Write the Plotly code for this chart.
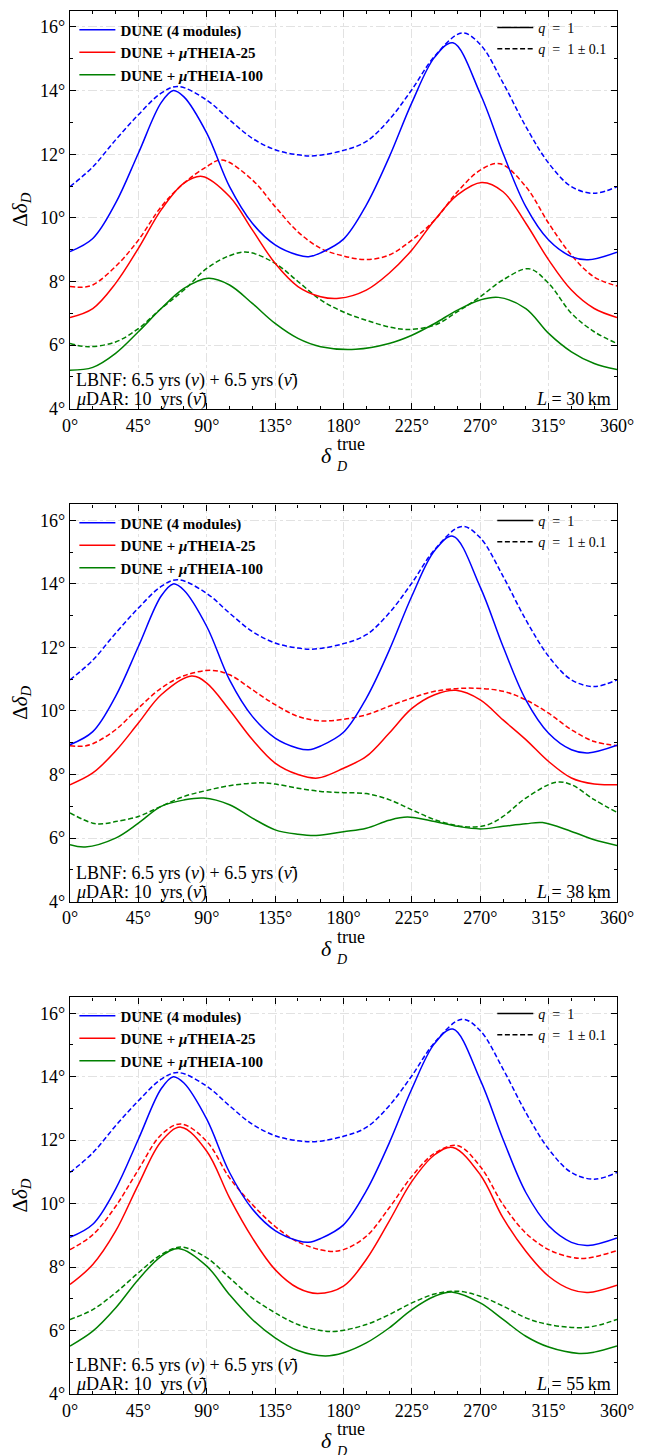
import plotly.graph_objects as go
from plotly.subplots import make_subplots

# Resolution on delta_CP (degrees) vs. true delta_CP (degrees); (delta_true, value) pairs
DUNE_Q1 = [(0, 8.94), (15, 9.35), (30, 10.46), (45, 12.03), (60, 13.62), (68, 14.0), (75, 13.8),
           (90, 12.66), (105, 10.98), (120, 9.83), (135, 9.15), (150, 8.83), (157, 8.78),
           (165, 8.9), (180, 9.33), (195, 10.4), (210, 11.9), (225, 13.62), (240, 15.05),
           (252, 15.5), (270, 13.9), (285, 12.03), (300, 10.35), (315, 9.3), (330, 8.78),
           (341, 8.68), (360, 8.92)]
DUNE_QV = [(0, 10.98), (15, 11.6), (30, 12.45), (45, 13.24), (60, 13.92), (71, 14.13),
           (90, 13.7), (105, 13.08), (120, 12.5), (135, 12.14), (150, 11.98), (161, 11.95),
           (180, 12.12), (195, 12.4), (210, 13.08), (225, 14.03), (240, 15.08), (258, 15.81),
           (270, 15.45), (285, 14.24), (300, 12.87), (315, 11.72), (330, 10.98), (345, 10.77),
           (360, 10.98)]

# L = 30 km
T25_Q1_30 = [(0, 6.87), (15, 7.15), (30, 7.94), (45, 9.04), (60, 10.25), (75, 11.09), (87, 11.3),
             (105, 10.67), (120, 9.62), (135, 8.57), (150, 7.84), (165, 7.52), (177, 7.47),
             (195, 7.73), (210, 8.26), (225, 8.99), (240, 9.93), (255, 10.72), (271, 11.11),
             (285, 10.82), (300, 9.83), (315, 8.68), (330, 7.73), (345, 7.15), (360, 6.87)]
T25_QV_30 = [(0, 7.84), (8, 7.82), (15, 7.89), (30, 8.47), (45, 9.3), (60, 10.35), (75, 11.09),
             (90, 11.61), (100, 11.82), (120, 11.19), (135, 10.35), (150, 9.56), (165, 9.04),
             (180, 8.8), (195, 8.69), (210, 8.83), (225, 9.3), (240, 9.93), (255, 10.82),
             (270, 11.5), (283, 11.7), (300, 10.98), (315, 9.83), (330, 8.83), (345, 8.14),
             (360, 7.86)]
T100_Q1_30 = [(0, 5.21), (15, 5.3), (30, 5.74), (45, 6.42), (60, 7.15), (75, 7.78), (91, 8.1),
              (105, 7.89), (120, 7.31), (135, 6.68), (150, 6.21), (165, 5.95), (188, 5.87),
              (210, 6.05), (225, 6.31), (240, 6.68), (255, 7.1), (270, 7.42), (282, 7.5),
              (300, 7.15), (315, 6.37), (330, 5.79), (345, 5.42), (360, 5.23)]
T100_QV_30 = [(0, 6.05), (12, 5.95), (30, 6.1), (45, 6.52), (60, 7.15), (75, 7.73), (90, 8.41),
              (105, 8.81), (117, 8.92), (135, 8.57), (150, 8.0), (165, 7.42), (180, 7.04),
              (195, 6.78), (210, 6.57), (222, 6.49), (240, 6.63), (255, 7.05), (270, 7.52),
              (285, 8.05), (302, 8.4), (315, 7.94), (330, 7.0), (345, 6.42), (360, 6.05)]

# L = 38 km
T25_Q1_38 = [(0, 7.68), (15, 8.05), (30, 8.74), (45, 9.62), (60, 10.51), (80, 11.1), (90, 10.88),
             (105, 10.03), (120, 9.1), (135, 8.36), (150, 8.0), (163, 7.89), (180, 8.2),
             (195, 8.57), (210, 9.3), (225, 10.08), (240, 10.51), (254, 10.65), (270, 10.35),
             (285, 9.72), (300, 9.1), (315, 8.41), (330, 7.89), (345, 7.7), (360, 7.68)]
T25_QV_38 = [(0, 8.91), (8, 8.89), (15, 8.97), (30, 9.41), (45, 10.09), (60, 10.72), (75, 11.11),
             (93, 11.28), (105, 11.14), (120, 10.67), (135, 10.2), (150, 9.83), (165, 9.69),
             (180, 9.74), (195, 9.88), (210, 10.15), (225, 10.41), (240, 10.62), (262, 10.72),
             (285, 10.62), (300, 10.35), (315, 9.93), (330, 9.41), (345, 9.04), (360, 8.91)]
T100_Q1_38 = [(0, 5.79), (10, 5.72), (30, 6.0), (45, 6.47), (60, 7.0), (75, 7.2), (88, 7.26),
              (105, 7.05), (120, 6.63), (135, 6.26), (150, 6.12), (162, 6.08), (180, 6.2),
              (195, 6.31), (210, 6.56), (222, 6.66), (240, 6.52), (255, 6.37), (270, 6.29),
              (285, 6.37), (300, 6.45), (311, 6.49), (330, 6.21), (345, 5.95), (360, 5.77)]
T100_QV_38 = [(0, 6.79), (15, 6.47), (22, 6.45), (30, 6.52), (45, 6.68), (60, 7.0), (75, 7.31),
              (90, 7.5), (105, 7.65), (125, 7.74), (135, 7.7), (150, 7.57), (165, 7.47),
              (180, 7.43), (195, 7.4), (210, 7.21), (225, 6.89), (240, 6.58), (255, 6.39),
              (265, 6.35), (275, 6.42), (285, 6.68), (300, 7.26), (320, 7.76), (330, 7.68),
              (345, 7.21), (360, 6.81)]

# L = 55 km
T25_Q1_55 = [(0, 7.45), (15, 8.08), (30, 9.13), (45, 10.6), (60, 11.96), (73, 12.41), (90, 11.65),
             (105, 10.18), (120, 8.92), (135, 7.92), (150, 7.34), (163, 7.17), (180, 7.4),
             (195, 8.24), (210, 9.44), (225, 10.7), (240, 11.54), (252, 11.77), (270, 10.91),
             (285, 9.55), (300, 8.5), (315, 7.71), (330, 7.29), (341, 7.2), (360, 7.43)]
T25_QV_55 = [(0, 8.55), (15, 9.02), (30, 9.91), (45, 11.07), (60, 12.17), (73, 12.51), (90, 11.96),
             (105, 10.81), (120, 9.97), (135, 9.28), (150, 8.79), (170, 8.5), (180, 8.55),
             (195, 8.97), (210, 9.86), (225, 10.86), (240, 11.59), (255, 11.83), (270, 11.17),
             (285, 9.97), (300, 9.07), (315, 8.55), (330, 8.31), (340, 8.28), (360, 8.52)]
T100_Q1_55 = [(0, 5.51), (15, 5.98), (30, 6.71), (45, 7.61), (60, 8.34), (72, 8.58), (90, 8.03),
              (105, 7.13), (120, 6.35), (135, 5.77), (150, 5.37), (168, 5.2), (180, 5.3),
              (195, 5.61), (210, 6.08), (225, 6.66), (240, 7.08), (252, 7.21), (270, 6.87),
              (285, 6.35), (300, 5.82), (315, 5.48), (335, 5.28), (345, 5.32), (360, 5.51)]
T100_QV_55 = [(0, 6.35), (15, 6.66), (30, 7.19), (45, 7.82), (60, 8.39), (73, 8.63), (90, 8.29),
              (105, 7.66), (120, 7.03), (135, 6.56), (150, 6.19), (165, 6.0), (176, 5.98),
              (195, 6.19), (210, 6.5), (225, 6.87), (240, 7.15), (255, 7.24), (270, 7.08),
              (285, 6.77), (300, 6.4), (315, 6.19), (340, 6.1), (360, 6.35)]

BASELINES = ["30", "38", "55"]
PANEL_SERIES = [
    (T25_Q1_30, T25_QV_30, T100_Q1_30, T100_QV_30),
    (T25_Q1_38, T25_QV_38, T100_Q1_38, T100_QV_38),
    (T25_Q1_55, T25_QV_55, T100_Q1_55, T100_QV_55),
]
LABELS = ["<b>DUNE (4 modules)</b>", "<b>DUNE + <i>μ</i>THEIA-25</b>",
          "<b>DUNE + <i>μ</i>THEIA-100</b>"]
COLORS = ["#0000ff", "#ff0000", "#008000"]
X_TICKS = [0, 45, 90, 135, 180, 225, 270, 315, 360]
X_TICK_TEXT = ["0°", "45°", "90°", "135°", "180°", "225°", "270°", "315°", "360°"]
Y_TICKS = [4, 6, 8, 10, 12, 14, 16]
Y_TICK_TEXT = ["4°", "6°", "8°", "10°", "12°", "14°", "16°"]

FONT = "Liberation Serif"
DASH = "5px,2.6px"
LW = 1.5
SMOOTH = 1.0
NB = "\u00a0"

fig = make_subplots(rows=3, cols=1)

domains = [(0.7124, 1.0), (0.3560, 0.6432), (0.0, 0.2868)]
for i, (lo, hi) in enumerate(domains):
    fig.layout[f"yaxis{'' if i == 0 else i + 1}"].domain = [lo, hi]
    fig.layout[f"xaxis{'' if i == 0 else i + 1}"].domain = [0, 1]


def xy(pairs):
    return [p[0] for p in pairs], [p[1] for p in pairs]


for i, series in enumerate(PANEL_SERIES):
    row = i + 1
    leg_a = "legend" if i == 0 else f"legend{2 * i + 1}"
    leg_b = f"legend{2 * i + 2}"
    curves = [(DUNE_Q1, DUNE_QV), (series[0], series[1]), (series[2], series[3])]
    for k, (solid, dashed) in enumerate(curves):
        xs, ys = xy(dashed)
        fig.add_trace(go.Scatter(x=xs, y=ys, mode="lines",
                                 line=dict(color=COLORS[k], width=LW, dash=DASH,
                                           shape="spline", smoothing=SMOOTH),
                                 showlegend=False, hoverinfo="skip"), row=row, col=1)
    for k, (solid, dashed) in enumerate(curves):
        xs, ys = xy(solid)
        fig.add_trace(go.Scatter(x=xs, y=ys, mode="lines", name=LABELS[k],
                                 line=dict(color=COLORS[k], width=LW, shape="spline",
                                           smoothing=SMOOTH),
                                 legend=leg_a, showlegend=True), row=row, col=1)
    # line-style key
    fig.add_trace(go.Scatter(x=[None], y=[None], mode="lines",
                             name=f"<i>q</i>{NB}{NB}={NB}{NB}1",
                             line=dict(color="black", width=LW), legend=leg_b), row=row, col=1)
    fig.add_trace(go.Scatter(x=[None], y=[None], mode="lines",
                             name=f"<i>q</i>{NB}{NB}={NB}{NB}1{NB}±{NB}0.1",
                             line=dict(color="black", width=LW, dash=DASH), legend=leg_b),
                  row=row, col=1)

axis_common = dict(showline=True, linecolor="black", linewidth=1.3, mirror="ticks",
                   ticks="inside", ticklen=6, tickwidth=1, tickcolor="black",
                   showgrid=True, gridcolor="#e2e2e2", gridwidth=0.8, griddash="dashdot",
                   zeroline=False, tickfont=dict(family=FONT, size=18, color="black"))

for i in range(3):
    sfx = "" if i == 0 else str(i + 1)
    fig.layout[f"xaxis{sfx}"].update(range=[0, 360], tickmode="array", tickvals=X_TICKS,
                                      ticktext=X_TICK_TEXT,
                                      minor=dict(tickvals=list(range(0, 361, 15)), ticks="inside",
                                                 ticklen=3, tickcolor="black", showgrid=False),
                                      **axis_common)
    fig.layout[f"yaxis{sfx}"].update(range=[4, 16.5], tickmode="array", tickvals=Y_TICKS,
                                      ticktext=Y_TICK_TEXT,
                                      minor=dict(tickvals=list(range(4, 17)), ticks="inside",
                                                 ticklen=3, tickcolor="black", showgrid=False),
                                      **axis_common)

    xr = f"x{sfx} domain"
    yr = f"y{sfx} domain"
    ann = [
        dict(text="LBNF: 6.5 yrs (<i>ν</i>) + 6.5 yrs (<i>ν̄</i>)", x=0.008, y=0.072,
             xanchor="left", yanchor="middle", font=dict(size=18)),
        dict(text=f"<i>μ</i>DAR: 10{NB} yrs (<i>ν̄</i>)", x=0.008, y=0.024, xanchor="left",
             yanchor="middle", font=dict(size=18)),
        dict(text=f"<i>L</i>{NB}={NB}{BASELINES[i]}\u2009km", x=0.992, y=0.024,
             xanchor="right", yanchor="middle", font=dict(size=18)),
        dict(text="<i>δ</i>", x=0.469, y=-0.117, xanchor="center", yanchor="middle",
             font=dict(size=22)),
        dict(text="true", x=0.485, y=-0.089, xanchor="left", yanchor="middle",
             font=dict(size=18)),
        dict(text="<i>D</i>", x=0.483, y=-0.146, xanchor="left", yanchor="middle",
             font=dict(size=14)),
        dict(text="Δ<i>δ</i><sub><i>D</i></sub>", x=-0.09, y=0.5, xanchor="center",
             yanchor="middle", textangle=-90, font=dict(size=21)),
    ]
    for a in ann:
        a["font"].update(family=FONT, color="black")
        fig.add_annotation(xref=xr, yref=yr, showarrow=False, **a)

# legend placement per panel
panel_top_px = [11.4, 504.4, 997.4]
for i in range(3):
    top = panel_top_px[i]
    ya = (1394 - (top + 2)) / 1383
    name_a = "legend" if i == 0 else f"legend{2 * i + 1}"
    name_b = f"legend{2 * i + 2}"
    fig.layout[name_a] = dict(x=0.008, y=ya, xanchor="left", yanchor="top",
                              bgcolor="rgba(0,0,0,0)", borderwidth=0, itemwidth=36,
                              tracegroupgap=0, font=dict(family=FONT, size=15, color="black"))
    fig.layout[name_b] = dict(x=0.772, y=ya + 0.001, xanchor="left", yanchor="top",
                              bgcolor="rgba(0,0,0,0)", borderwidth=0, itemwidth=36,
                              tracegroupgap=0, font=dict(family=FONT, size=14, color="black"))

fig.update_layout(width=647, height=1455, margin=dict(l=70, r=30, t=11, b=61),
                  paper_bgcolor="white", plot_bgcolor="white",
                  font=dict(family=FONT, color="black"))

fig.write_html("out.html")
